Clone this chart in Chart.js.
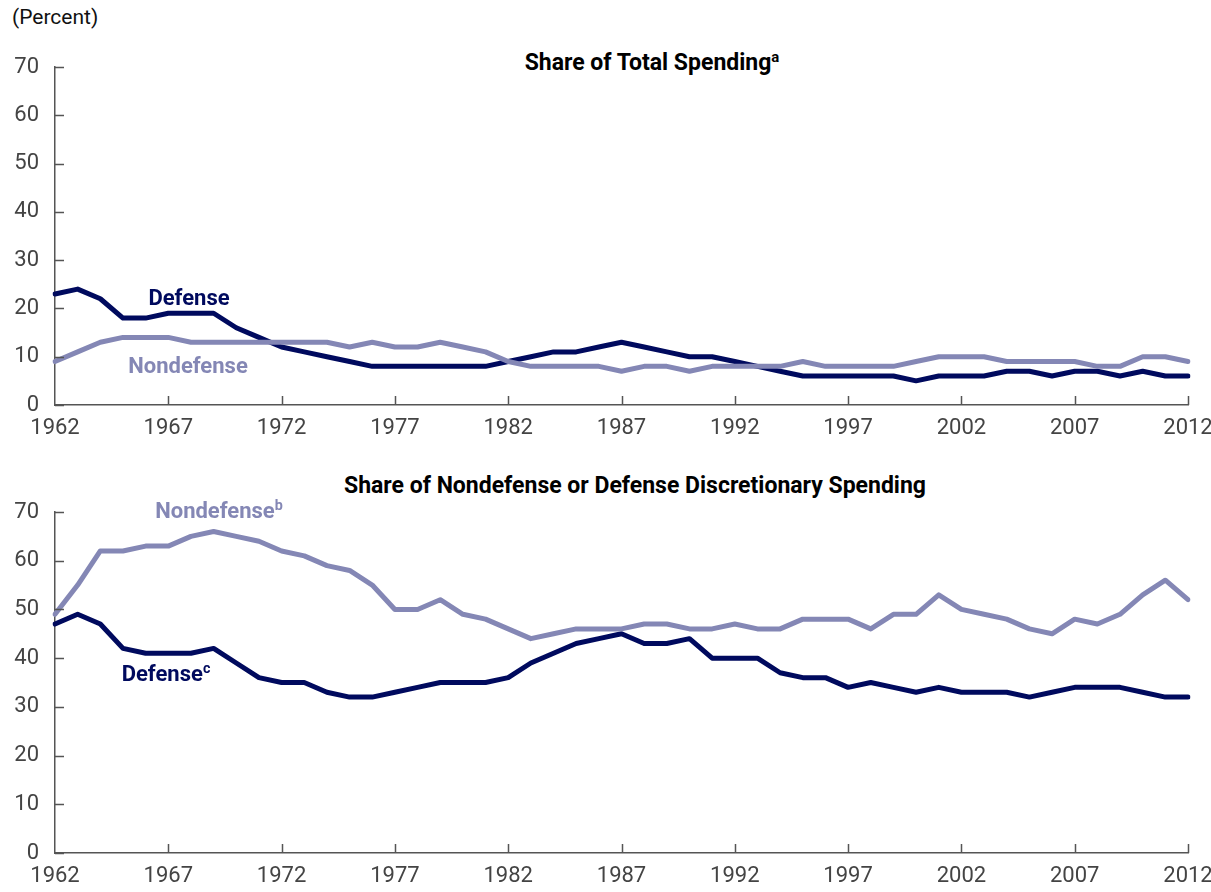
<!DOCTYPE html>
<html>
<head>
<meta charset="utf-8">
<script src="https://cdn.jsdelivr.net/npm/chart.js@4.4.1/dist/chart.umd.min.js"></script>
<style>
  body { margin: 0; background: #fff; width: 1211px; height: 892px; position: relative; overflow: hidden;
         font-family: "Roboto", sans-serif; }
  .box { position: absolute; left: 0; width: 1211px; }
  .txt { position: absolute; white-space: nowrap; line-height: 1; }
  .title { font-weight: bold; font-size: 23px; color: #000; transform: translateX(-50%); }
  .lab { font-weight: bold; font-size: 22px; transform: translateX(-50%); }
  sup { font-size: 0.65em; vertical-align: 0.55em; line-height: 0; }
</style>
</head>
<body>
<div class="txt" style="left:12px;top:7px;font-size:21px;color:#111;">(Percent)</div>
<div class="txt title" style="left:652px;top:51px;">Share of Total Spending<sup>a</sup></div>
<div class="txt title" style="left:635px;top:474px;">Share of Nondefense or Defense Discretionary Spending</div>

<div class="box" style="top:0;height:445px;"><canvas id="topChart"></canvas></div>
<div class="box" style="top:445px;height:447px;"><canvas id="bottomChart"></canvas></div>

<div class="txt lab" style="left:189px;top:287px;color:#000a5e;">Defense</div>
<div class="txt lab" style="left:188px;top:355px;color:#8487b5;">Nondefense</div>
<div class="txt lab" style="left:219px;top:500px;color:#8487b5;">Nondefense<sup>b</sup></div>
<div class="txt lab" style="left:166px;top:663px;color:#000a5e;">Defense<sup>c</sup></div>

<script>
const years = [];
for (let y = 1962; y <= 2012; y++) years.push(y);

// Share of total spending
const totalDefense = [23, 24, 22, 18, 18, 19, 19, 19, 16, 14, 12, 11, 10, 9, 8, 8, 8, 8, 8, 8,
  9, 10, 11, 11, 12, 13, 12, 11, 10, 10, 9, 8, 7, 6, 6, 6, 6, 6, 5, 6,
  6, 6, 7, 7, 6, 7, 7, 6, 7, 6, 6];
const totalNondefense = [9, 11, 13, 14, 14, 14, 13, 13, 13, 13, 13, 13, 13, 12, 13, 12, 12, 13, 12, 11,
  9, 8, 8, 8, 8, 7, 8, 8, 7, 8, 8, 8, 8, 9, 8, 8, 8, 8, 9, 10,
  10, 10, 9, 9, 9, 9, 8, 8, 10, 10, 9];

// Share of nondefense or defense discretionary spending
const discNondefense = [49, 55, 62, 62, 63, 63, 65, 66, 65, 64, 62, 61, 59, 58, 55, 50, 50, 52, 49, 48,
  46, 44, 45, 46, 46, 46, 47, 47, 46, 46, 47, 46, 46, 48, 48, 48, 46, 49, 49, 53,
  50, 49, 48, 46, 45, 48, 47, 49, 53, 56, 52];
const discDefense = [47, 49, 47, 42, 41, 41, 41, 42, 39, 36, 35, 35, 33, 32, 32, 33, 34, 35, 35, 35,
  36, 39, 41, 43, 44, 45, 43, 43, 44, 40, 40, 40, 37, 36, 36, 34, 35, 34, 33, 34,
  33, 33, 33, 32, 33, 34, 34, 34, 33, 32, 32];

const yTicks = [0, 10, 20, 30, 40, 50, 60, 70];

const DARK = '#000a5e';
const LIGHT = '#8487b5';
const AXIS = '#555';
const FONT = '"Roboto", sans-serif';

// tick marks drawn inward from the axes
const innerTicks = {
  id: 'innerTicks',
  afterDraw(chart) {
    const { ctx, chartArea, scales } = chart;
    ctx.save();
    ctx.strokeStyle = AXIS;
    ctx.lineWidth = 1.5;
    ctx.beginPath();
    yTicks.forEach(v => {
      const y = Math.round(scales.y.getPixelForValue(v)) + 0.5;
      ctx.moveTo(chartArea.left, y);
      ctx.lineTo(chartArea.left + 9, y);
    });
    years.forEach((yr, i) => {
      if ((yr - 1962) % 5 !== 0 || i === 0) return;
      const x = Math.round(scales.x.getPixelForValue(i)) + 0.5;
      ctx.moveTo(x, chartArea.bottom);
      ctx.lineTo(x, chartArea.bottom - 9);
    });
    ctx.stroke();
    ctx.restore();
  }
};

function makeChart(id, seriesA, seriesB, xHeight) {
  const ctx = document.getElementById(id).getContext('2d');
  return new Chart(ctx, {
    type: 'line',
    data: {
      labels: years,
      datasets: [
        { data: seriesB, borderColor: LIGHT, borderWidth: 5, pointRadius: 0, tension: 0, borderJoinStyle: 'round', borderCapStyle: 'round' },
        { data: seriesA, borderColor: DARK, borderWidth: 5, pointRadius: 0, tension: 0, borderJoinStyle: 'round', borderCapStyle: 'round' }
      ]
    },
    options: {
      responsive: true,
      maintainAspectRatio: false,
      animation: false,
      layout: { padding: { top: 67, right: 23, left: 0, bottom: 0 } },
      plugins: { legend: { display: false }, tooltip: { enabled: false } },
      scales: {
        x: {
          offset: false,
          grid: { display: false, drawTicks: false },
          border: { color: AXIS, width: 1.5 },
          ticks: {
            autoSkip: false,
            maxRotation: 0,
            padding: 10,
            color: '#444',
            font: { family: FONT, size: 22 },
            callback: (v, i) => ((years[i] - 1962) % 5 === 0 ? String(years[i]) : null)
          },
          afterFit: s => { s.height = xHeight; s.paddingLeft = 0; s.paddingRight = 0; }
        },
        y: {
          min: 0,
          max: 70,
          grid: { display: false, drawTicks: false },
          border: { color: AXIS, width: 1.5 },
          ticks: {
            stepSize: 10,
            padding: 16,
            color: '#444',
            font: { family: FONT, size: 22 }
          },
          afterFit: s => { s.width = 55; s.paddingTop = 0; s.paddingBottom = 0; }
        }
      }
    },
    plugins: [innerTicks]
  });
}

makeChart('topChart', totalDefense, totalNondefense, 40);
makeChart('bottomChart', discDefense, discNondefense, 39);
</script>
</body>
</html>
